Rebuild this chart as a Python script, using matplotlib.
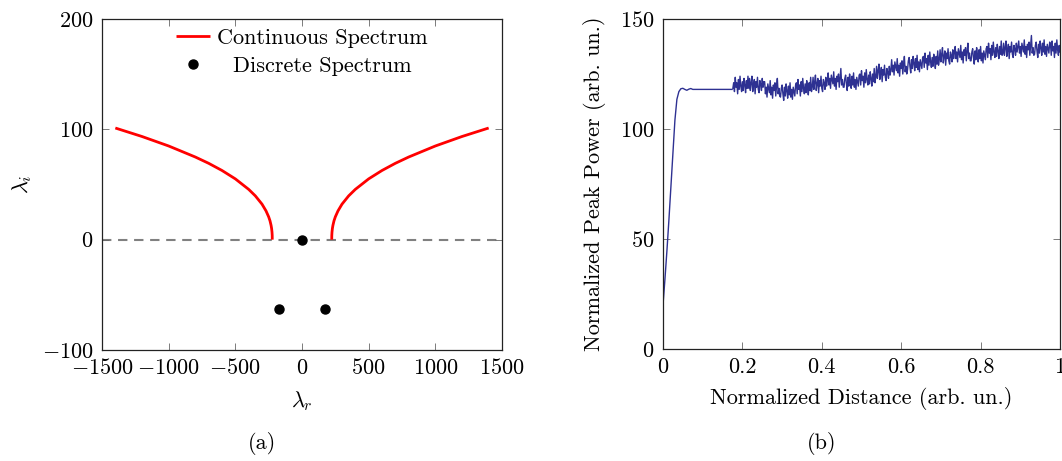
import numpy as np
import matplotlib
matplotlib.use("Agg")
import matplotlib.pyplot as plt

plt.rcParams['font.family'] = 'serif'
plt.rcParams['font.serif'] = ['cmr10']
plt.rcParams['mathtext.fontset'] = 'cm'
plt.rcParams['axes.formatter.use_mathtext'] = True
plt.rcParams['axes.unicode_minus'] = True

# ---------------- panel (a) data ----------------
cont_abs_r = [1400, 1200, 1000, 800, 700, 600, 500, 400, 350, 300, 270, 250,
              240, 232, 228, 225, 223.5, 223]
cont_i = [101.2, 93.5, 84.9, 74.9, 69.2, 62.7, 55.1, 45.6, 39.7, 32.2, 26.1, 20.7,
          17.1, 13.0, 10.2, 6.9, 3.9, 0.0]
disc_r = [0, -175, 175]
disc_i = [0, -63, -63]

# ---------------- panel (b) data ----------------
rise_x = [0, 0.005, 0.01, 0.015, 0.02, 0.025, 0.03, 0.035, 0.04, 0.045, 0.05,
          0.055, 0.06, 0.065, 0.07, 0.075, 0.1, 0.15, 0.174]
rise_y = [20, 32, 45, 59, 74, 89, 104, 113.5, 117, 118.3, 118.5,
          118.0, 117.6, 118.1, 118.4, 118, 118, 118, 118]

noisy_y = [
    118.5, 121, 117, 123.5, 119, 121, 116, 122.5, 118, 124,
    119.5, 117, 121.5, 117.5, 123, 120, 116.5, 122, 118.5, 124,
    118.5, 123, 117.5, 121, 124, 117, 120, 122.5, 116, 121.5,
    119, 123.5, 118, 116.5, 122, 120.5, 117.5, 123, 119, 121.5,
    121.5, 116, 119, 114.5, 120.5, 118.5, 116.5, 122, 115.5, 119,
    114, 120, 117.5, 121, 115, 119.5, 123, 116, 118.5, 115,
    114.5, 118.5, 120, 116, 113, 119, 115, 120.5, 117.5, 114,
    119.5, 115.5, 121, 114.5, 118, 113.5, 119, 117, 115, 120,
    121, 116, 122.5, 118, 120, 115, 121.5, 117, 123, 118.5,
    116, 120.5, 116.5, 122, 119, 115.5, 121, 117.5, 123.5, 117,
    119, 123.5, 118, 121.5, 124.5, 117.5, 120.5, 123, 116.5, 122,
    119.5, 124, 118.5, 117, 122.5, 121, 118, 123.5, 119.5, 122,
    125.5, 120, 123, 118.5, 124.5, 122.5, 120.5, 126, 119.5, 123,
    118, 124, 121.5, 125, 119, 123.5, 127.5, 120, 122.5, 119,
    119, 123, 124.5, 120.5, 117.5, 123.5, 119.5, 125, 122, 118.5,
    124, 120, 125.5, 119, 122.5, 118, 123.5, 121.5, 119.5, 124.5,
    125, 120, 126.5, 122, 124, 119, 125.5, 121, 127, 122.5,
    120, 124.5, 120.5, 126, 123, 119.5, 125, 121.5, 127.5, 121,
    124, 128.5, 123, 126.5, 129.5, 122.5, 125.5, 128, 121.5, 127,
    124.5, 129, 123.5, 122, 127.5, 126, 123, 128.5, 124.5, 127,
    131.5, 126, 129, 124.5, 130.5, 128.5, 126.5, 132, 125.5, 129,
    124, 130, 127.5, 131, 125, 129.5, 133, 126, 128.5, 125,
    127, 131, 132.5, 128.5, 125.5, 131.5, 127.5, 133, 130, 126.5,
    132, 128, 133.5, 127, 130.5, 126, 131.5, 129.5, 127.5, 132.5,
    133, 128, 134.5, 130, 132, 127, 133.5, 129, 135, 130.5,
    128, 132.5, 128.5, 134, 131, 127.5, 133, 129.5, 135.5, 129,
    131.5, 136, 130.5, 134, 137, 130, 133, 135.5, 129, 134.5,
    132, 136.5, 131, 129.5, 135, 133.5, 130.5, 136, 132, 134.5,
    137.5, 132, 135, 130.5, 136.5, 134.5, 132.5, 138, 131.5, 135,
    130, 136, 133.5, 137, 131, 135.5, 139, 132, 134.5, 131,
    131, 135, 136.5, 132.5, 129.5, 135.5, 131.5, 137, 134, 130.5,
    136, 132, 137.5, 131, 134.5, 130, 135.5, 133.5, 131.5, 136.5,
    137.5, 132.5, 139, 134.5, 136.5, 131.5, 138, 133.5, 139.5, 135,
    132.5, 137, 133, 138.5, 135.5, 132, 137.5, 134, 140, 133.5,
    134.5, 139, 133.5, 137, 140, 133, 136, 138.5, 132, 137.5,
    135, 139.5, 134, 132.5, 138, 136.5, 133.5, 139, 135, 137.5,
    140, 134.5, 137.5, 133, 139, 137, 135, 140.5, 134, 137.5,
    132.5, 138.5, 136, 139.5, 133.5, 138, 142.5, 134.5, 137, 133.5,
    134, 138, 139.5, 135.5, 132.5, 138.5, 134.5, 140, 137, 133.5,
    139, 135, 140.5, 134, 137.5, 133, 138.5, 136.5, 134.5, 139.5,
    138.5, 133.5, 140, 135.5, 137.5, 132.5, 139, 134.5, 140.5, 136,
    133.5, 138, 135,
]
noisy_x = np.linspace(0.176, 1.0, len(noisy_y))

FS = 16
fig = plt.figure(figsize=(10.62, 4.61), dpi=100)

ax1 = fig.add_axes([102/1062, 1-350/461, 400/1062, 331/461])
ax2 = fig.add_axes([663/1062, 1-349/461, 397/1062, 330/461])

for ax in (ax1, ax2):
    ax.tick_params(direction='in', top=True, right=True, length=5, width=0.6,
                   color='#666666', labelsize=FS, pad=6)
    for s in ax.spines.values():
        s.set_linewidth(0.9)
        s.set_color('#222222')

# panel (a)
cr = np.array(cont_abs_r, dtype=float)
ci = np.array(cont_i, dtype=float)
ax1.axhline(0, color='#808080', lw=1.5, ls=(0, (4.5, 3.2)), zorder=1)
ax1.plot(-cr, ci, color='red', lw=2.0, zorder=2, label='Continuous Spectrum',
         solid_capstyle='butt')
ax1.plot(cr, ci, color='red', lw=2.0, zorder=2, solid_capstyle='butt')
ax1.plot(disc_r, disc_i, 'o', color='black', ms=6.5, ls='none', zorder=3,
         label='Discrete Spectrum')
ax1.set_xlim(-1500, 1500)
ax1.set_ylim(-100, 200)
ax1.set_xticks([-1500, -1000, -500, 0, 500, 1000, 1500])
ax1.set_yticks([-100, 0, 100, 200])
ax1.set_xlabel(r'$\lambda_r$', fontsize=FS, labelpad=8)
ax1.set_ylabel(r'$\lambda_i$', fontsize=FS, labelpad=6)
leg = ax1.legend(loc='upper center', frameon=False, fontsize=FS,
                 handlelength=1.5, handletextpad=0.32, labelspacing=0.38,
                 borderaxespad=0.18, borderpad=0.25)
fig.canvas.draw()
t0, t1 = leg.get_texts()
w0 = t0.get_window_extent().width
w1 = t1.get_window_extent().width
t1.set_position(((w0 - w1) / 2, 0))

# panel (b)
ax2.plot(rise_x, rise_y, color='#2E3192', lw=1.0)
ax2.plot(noisy_x, noisy_y, color='#2E3192', lw=1.0)
ax2.set_xlim(0, 1)
ax2.set_ylim(0, 150)
ax2.set_xticks([0, 0.2, 0.4, 0.6, 0.8, 1])
ax2.set_xticklabels(['0', '0.2', '0.4', '0.6', '0.8', '1'])
ax2.set_yticks([0, 50, 100, 150])
ax2.set_xlabel('Normalized Distance (arb. un.)', fontsize=FS, labelpad=7)
ax2.set_ylabel('Normalized Peak Power (arb. un.)', fontsize=FS, labelpad=10)

fig.text(262/1062, 1-443/461, '(a)', fontsize=FS, ha='center', va='center')
fig.text(822/1062, 1-443/461, '(b)', fontsize=FS, ha='center', va='center')

fig.savefig('out.png', dpi=100)
